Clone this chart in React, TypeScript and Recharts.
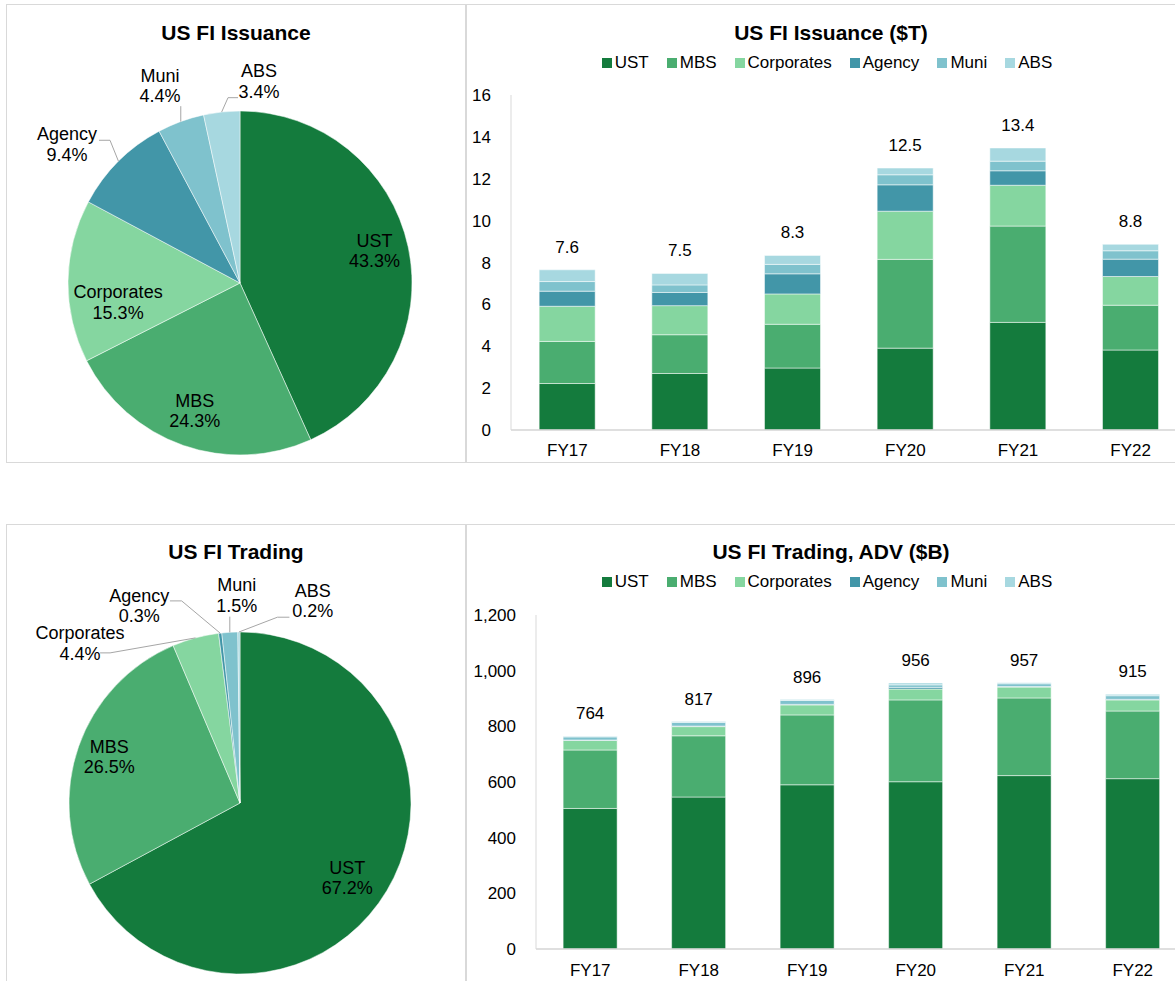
import React from "react";
import {
  BarChart,
  Bar,
  XAxis,
  YAxis,
  Legend,
  LabelList,
  PieChart,
  Pie,
  Cell,
} from "recharts";

const categories = ["FY17", "FY18", "FY19", "FY20", "FY21", "FY22"];
const seriesNames = ["UST", "MBS", "Corporates", "Agency", "Muni", "ABS"];
const seriesColors = ["#147b3d", "#4aad70", "#85d6a0", "#4296a8", "#7fc2cd", "#a7d8e0"];

// US FI Issuance ($T)
const issuanceUST = [2.22, 2.7, 2.96, 3.91, 5.14, 3.82];
const issuanceMBS = [2.01, 1.85, 2.09, 4.24, 4.6, 2.14];
const issuanceCorporates = [1.68, 1.39, 1.45, 2.3, 1.95, 1.37];
const issuanceAgency = [0.72, 0.63, 0.96, 1.26, 0.69, 0.83];
const issuanceMuni = [0.46, 0.36, 0.45, 0.48, 0.46, 0.4];
const issuanceABS = [0.56, 0.55, 0.43, 0.32, 0.63, 0.31];
const issuanceTotals = [7.6, 7.5, 8.3, 12.5, 13.4, 8.8];
const issuanceTicks = [0, 2, 4, 6, 8, 10, 12, 14, 16];

// US FI Trading, ADV ($B)
const tradingUST = [505, 546, 590, 601, 623, 612];
const tradingMBS = [210, 220, 251, 294, 279, 243];
const tradingCorporates = [34, 33, 36, 39, 39, 40];
const tradingAgency = [2, 2, 2, 6, 2, 2];
const tradingMuni = [11, 13, 14, 9, 10, 13];
const tradingABS = [2, 3, 3, 7, 4, 5];
const tradingTotals = [764, 817, 896, 956, 957, 915];
const tradingTicks = [0, 200, 400, 600, 800, 1000, 1200];

// pie shares (%)
const issuanceShare = [43.3, 24.3, 15.3, 9.4, 4.4, 3.4];
const tradingShare = [67.2, 26.5, 4.4, 0.3, 1.5, 0.2];

const FONT = '"Liberation Sans", Arial, sans-serif';
const BORDER = "1.5px solid #d9d9d9";

function buildRows(series: number[][], totals: number[]) {
  return categories.map((cat, i) => {
    const row: Record<string, string | number> = { cat, total: totals[i] };
    seriesNames.forEach((name, s) => {
      row[name] = series[s][i];
    });
    return row;
  });
}

const issuanceRows = buildRows(
  [issuanceUST, issuanceMBS, issuanceCorporates, issuanceAgency, issuanceMuni, issuanceABS],
  issuanceTotals
);
const tradingRows = buildRows(
  [tradingUST, tradingMBS, tradingCorporates, tradingAgency, tradingMuni, tradingABS],
  tradingTotals
);

const issuancePie = seriesNames.map((name, i) => ({ name, value: issuanceShare[i] }));
const tradingPie = seriesNames.map((name, i) => ({ name, value: tradingShare[i] }));

// label placement: radius factor, nudge, optional leader line
type Leader = { lx: number | null; ly: number; hx: number };
type LabelCfg = { f: number; nx: number; ny: number; leader?: Leader };

const issuanceLabelCfg: Record<string, LabelCfg> = {
  UST: { f: 0.8, nx: 0, ny: -3 },
  MBS: { f: 0.79, nx: 0, ny: 0 },
  Corporates: { f: 0.79, nx: 14, ny: 21 },
  Agency: { f: 1.3, nx: -15, ny: 20, leader: { lx: 32, ly: -4.5, hx: 11 } },
  Muni: { f: 1.25, nx: -6, ny: 5, leader: { lx: null, ly: 20, hx: 0 } },
  ABS: { f: 1.2, nx: 41, ny: 3.5, leader: { lx: -21, ly: 16.4, hx: -10 } },
};

const tradingLabelCfg: Record<string, LabelCfg> = {
  UST: { f: 0.764, nx: -5, ny: 8 },
  MBS: { f: 0.81, nx: 0, ny: 0 },
  Corporates: { f: 1.3, nx: -102, ny: 55, leader: { lx: 20, ly: 9.5, hx: 10 } },
  Agency: { f: 1.3, nx: -75, ny: 24, leader: { lx: 30.7, ly: -5.3, hx: 11.7 } },
  Muni: { f: 1.3, nx: 10, ny: 14.5, leader: { lx: null, ly: 21, hx: 0 } },
  ABS: { f: 1.2, nx: 74, ny: 3, leader: { lx: -23.3, ly: 16.4, hx: -12 } },
};

const makePieLabel = (cfgMap: Record<string, LabelCfg>) => (props: any) => {
  const { cx, cy, midAngle, outerRadius, name, value } = props;
  const cfg = cfgMap[name];
  if (!cfg) return null;
  const rad = (-midAngle * Math.PI) / 180;
  const ux = Math.cos(rad);
  const uy = Math.sin(rad);
  const ax = cx + cfg.f * outerRadius * ux + cfg.nx;
  const ay = cy + cfg.f * outerRadius * uy + cfg.ny;
  let line = null;
  if (cfg.leader) {
    const ex = cx + outerRadius * ux;
    const ey = cy + outerRadius * uy;
    const L = cfg.leader;
    const p0x = L.lx === null ? ex : ax + L.lx;
    const p0y = ay + L.ly;
    const p1x = p0x + L.hx;
    line = (
      <polyline
        points={`${p0x},${p0y} ${p1x},${p0y} ${ex},${ey}`}
        fill="none"
        stroke="#a6a6a6"
        strokeWidth={1}
      />
    );
  }
  return (
    <g>
      {line}
      <text x={ax} y={ay} textAnchor="middle" fontSize={18} fill="#000" fontFamily={FONT}>
        <tspan x={ax} y={ay - 10.3} dominantBaseline="central">
          {name}
        </tspan>
        <tspan x={ax} y={ay + 10.3} dominantBaseline="central">
          {`${Number(value).toFixed(1)}%`}
        </tspan>
      </text>
    </g>
  );
};

function LegendRow(props: any) {
  const items = [...(props.payload || [])].sort(
    (a: any, b: any) => seriesNames.indexOf(a.value) - seriesNames.indexOf(b.value)
  );
  return (
    <div
      style={{
        display: "flex",
        justifyContent: "center",
        alignItems: "center",
        gap: 18,
        fontSize: 17,
        lineHeight: "20px",
        fontFamily: FONT,
        color: "#000",
      }}
    >
      {items.map((p: any) => (
        <span key={p.value} style={{ display: "inline-flex", alignItems: "center" }}>
          <span style={{ width: 10, height: 10, background: p.color, marginRight: 3, display: "inline-block" }} />
          {p.value}
        </span>
      ))}
    </div>
  );
}

function Panel({ left, top, width, height, children }: any) {
  return (
    <div
      style={{
        position: "absolute",
        left,
        top,
        width,
        height,
        border: BORDER,
        boxSizing: "border-box",
      }}
    >
      {children}
    </div>
  );
}

function Title({ text, top }: { text: string; top: number }) {
  return (
    <div
      style={{
        position: "absolute",
        left: 0,
        right: 0,
        top,
        textAlign: "center",
        fontWeight: "bold",
        fontSize: 21,
        lineHeight: "24px",
        fontFamily: FONT,
        color: "#000",
      }}
    >
      {text}
    </div>
  );
}

function StackedChart({
  data,
  ticks,
  yWidth,
  height,
  marginTop,
  legendTop,
  xTickMargin,
  fmtTick,
  fmtLabel,
}: any) {
  return (
    <BarChart
      width={720}
      height={height}
      data={data}
      margin={{ top: marginTop, right: 0, bottom: 0, left: 0 }}
      barCategoryGap="25%"
    >
      <XAxis
        dataKey="cat"
        height={30}
        tickLine={false}
        tickMargin={xTickMargin}
        axisLine={{ stroke: "#d4d4d4", strokeWidth: 1.5 }}
        tick={{ fill: "#000", fontSize: 17, fontFamily: FONT }}
      />
      <YAxis
        width={yWidth}
        domain={[0, ticks[ticks.length - 1]]}
        ticks={ticks}
        interval={0}
        tickLine={false}
        tickMargin={14}
        tickFormatter={fmtTick}
        axisLine={{ stroke: "#d9d9d9", strokeWidth: 1 }}
        tick={{ fill: "#000", fontSize: 17, fontFamily: FONT }}
      />
      <Legend
        verticalAlign="middle"
        content={<LegendRow />}
        wrapperStyle={{ top: legendTop, left: 0, width: 720 }}
      />
      {seriesNames.map((name, i) => (
        <Bar
          key={name}
          dataKey={name}
          stackId="a"
          fill={seriesColors[i]}
          stroke="#ffffff"
          strokeWidth={0.5}
          isAnimationActive={false}
        >
          {i === seriesNames.length - 1 ? (
            <LabelList
              dataKey="total"
              position="top"
              offset={17}
              formatter={fmtLabel}
              fill="#000"
              fontSize={17}
              fontFamily={FONT}
            />
          ) : null}
        </Bar>
      ))}
    </BarChart>
  );
}

function SharePie({ data, cfg, cx, cy, radius, width, height }: any) {
  return (
    <PieChart width={width} height={height} margin={{ top: 0, right: 0, bottom: 0, left: 0 }}>
      <Pie
        data={data}
        dataKey="value"
        nameKey="name"
        cx={cx}
        cy={cy}
        outerRadius={radius}
        startAngle={90}
        endAngle={-270}
        stroke="#ffffff"
        strokeWidth={0.5}
        labelLine={false}
        label={makePieLabel(cfg)}
        isAnimationActive={false}
      >
        {data.map((d: any, i: number) => (
          <Cell key={d.name} fill={seriesColors[i]} />
        ))}
      </Pie>
    </PieChart>
  );
}

export default function App() {
  return (
    <div
      style={{
        position: "absolute",
        left: 0,
        top: 0,
        width: 1175,
        height: 981,
        overflow: "hidden",
        background: "#fff",
        fontFamily: FONT,
      }}
    >
      <Panel left={6} top={4} width={460} height={459}>
        <Title text="US FI Issuance" top={16} />
        <div style={{ position: "absolute", left: 0, top: 0 }}>
          <SharePie data={issuancePie} cfg={issuanceLabelCfg} cx={233} cy={278} radius={172} width={457} height={456} />
        </div>
      </Panel>

      <Panel left={466} top={4} width={730} height={459}>
        <Title text="US FI Issuance ($T)" top={16} />
        <div style={{ position: "absolute", left: 0, top: -1.5 }}>
          <StackedChart
            data={issuanceRows}
            ticks={issuanceTicks}
            yWidth={44}
            height={456}
            marginTop={91}
            legendTop={49}
            xTickMargin={8}
            fmtTick={(v: number) => String(v)}
            fmtLabel={(v: number) => Number(v).toFixed(1)}
          />
        </div>
      </Panel>

      <Panel left={6} top={524} width={460} height={470}>
        <Title text="US FI Trading" top={15} />
        <div style={{ position: "absolute", left: 0, top: 0 }}>
          <SharePie data={tradingPie} cfg={tradingLabelCfg} cx={233} cy={278} radius={171} width={457} height={456} />
        </div>
      </Panel>

      <Panel left={466} top={524} width={730} height={470}>
        <Title text="US FI Trading, ADV ($B)" top={15} />
        <div style={{ position: "absolute", left: 0, top: -1.5 }}>
          <StackedChart
            data={tradingRows}
            ticks={tradingTicks}
            yWidth={69}
            height={455}
            marginTop={91}
            legendTop={48}
            xTickMargin={9}
            fmtTick={(v: number) => v.toLocaleString("en-US")}
            fmtLabel={(v: number) => String(v)}
          />
        </div>
      </Panel>
    </div>
  );
}
